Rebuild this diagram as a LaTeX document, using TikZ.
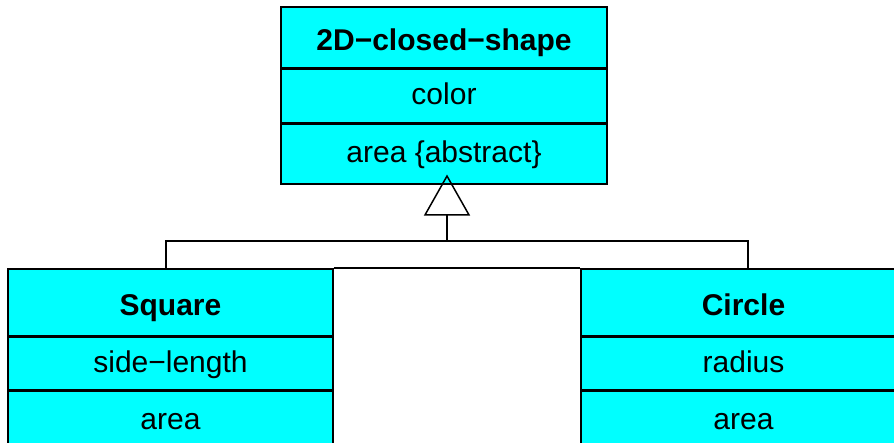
\documentclass[tikz,border=0pt]{standalone}
\usepackage{fontspec}
\setmainfont{Liberation Sans}
\usetikzlibrary{positioning,arrows.meta}
\definecolor{boxcyan}{RGB}{0,255,255}

\begin{document}
\begin{tikzpicture}[
  x=1pt, y=-1pt,
  cls/.style={draw, fill=boxcyan, line width=1.5pt, inner sep=0pt,
    minimum width=326pt, text height=23pt, text depth=5pt,
    font=\fontsize{30}{36}\selectfont},
  head/.style={cls, anchor=north, text height=28pt, text depth=2pt,
    font=\fontsize{30}{36}\selectfont\bfseries},
  link/.style={draw, line width=1.5pt}
]
\useasboundingbox (0,0) rectangle (894,442);

% superclass
\node[head, minimum height=61pt] (shape) at (444,6) {2D−closed−shape};
\node[cls, minimum height=53pt, below=0pt of shape] (shapecol) {color};
\node[cls, minimum height=60pt, below=0pt of shapecol] (shapearea) {area \{abstract\}};

% subclasses
\node[head, minimum height=67pt, minimum width=325pt] (square) at (170.5,268) {Square};
\node[cls, minimum height=52pt, minimum width=325pt, below=0pt of square] (sqside) {side−length};
\node[cls, minimum height=60pt, minimum width=325pt, below=0pt of sqside] (sqarea) {area};

\node[head, minimum height=67pt, minimum width=325pt] (circle) at (743.5,268) {Circle};
\node[cls, minimum height=52pt, minimum width=325pt, below=0pt of circle] (cirrad) {radius};
\node[cls, minimum height=60pt, minimum width=325pt, below=0pt of cirrad] (cirarea) {area};

% generalization
\coordinate (fork) at (447,241);
\coordinate (sqtop) at ([xshift=-4.5pt]square.north);
\coordinate (cirtop) at ([xshift=4.5pt]circle.north);
\draw[link, -{Triangle[open, length=41pt, width=46pt]}]
  (fork) -- ([xshift=3pt, yshift=10pt]shapearea.south);
\draw[link] (sqtop) |- (fork) -| (cirtop);
\draw[link] (square.north east) -- (circle.north west);
\end{tikzpicture}
\end{document}
